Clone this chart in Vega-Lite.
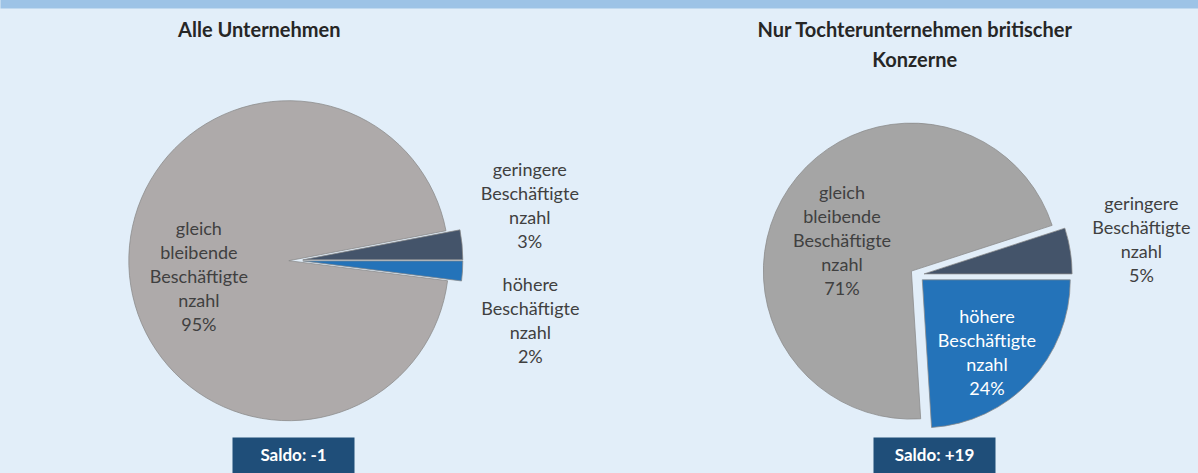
{
  "$schema": "https://vega.github.io/schema/vega-lite/v6.json",
  "width": 1198,
  "height": 437,
  "autosize": {"type": "none"},
  "padding": {"left": 0, "right": 0, "top": 0, "bottom": 36},
  "background": "#e2eef9",
  "config": {"view": {"stroke": null}, "font": "Lato"},
  "datasets": {
    "slices": [
      {"chart": "Alle Unternehmen", "kat": "gleich", "label": "gleich|bleibende|Beschäftigte|nzahl|95%", "pct": 95},
      {"chart": "Alle Unternehmen", "kat": "geringer", "label": "geringere|Beschäftigte|nzahl|3%", "pct": 3},
      {"chart": "Alle Unternehmen", "kat": "höher", "label": "höhere|Beschäftigte|nzahl|2%", "pct": 2},
      {"chart": "Nur Tochterunternehmen britischer|Konzerne", "kat": "gleich", "label": "gleich|bleibende|Beschäftigte|nzahl|71%", "pct": 71},
      {"chart": "Nur Tochterunternehmen britischer|Konzerne", "kat": "geringer", "label": "geringere|Beschäftigte|nzahl|5%", "pct": 5},
      {"chart": "Nur Tochterunternehmen britischer|Konzerne", "kat": "höher", "label": "höhere|Beschäftigte|nzahl|24%", "pct": 24}
    ],
    "saldo": [
      {"chart": "Alle Unternehmen", "saldo": "Saldo: -1"},
      {"chart": "Nur Tochterunternehmen britischer|Konzerne", "saldo": "Saldo: +19"}
    ]
  },
  "layer": [
    {
      "data": {"name": "slices"},
      "encoding": {
        "x": {
          "field": "chart",
          "type": "nominal",
          "scale": {"type": "point", "domain": ["Alle Unternehmen", "Nur Tochterunternehmen britischer|Konzerne"], "padding": 0.464, "align": 0.513},
          "axis": {
            "orient": "top",
            "title": null,
            "ticks": false,
            "grid": false,
            "domain": true,
            "domainColor": "#9dc3e6",
            "domainWidth": 16,
            "labelExpr": "split(datum.label, '|')",
            "labelFont": "Lato",
            "labelFontWeight": "bold",
            "labelFontSize": 20,
            "labelColor": "#262626",
            "labelBaseline": "top",
            "labelPadding": -20,
            "labelLineHeight": 30,
            "labelLimit": 1000,
            "labelOverlap": false,
            "labelAngle": 0,
            "labelOffset": {"condition": {"test": "datum.value == 'Alle Unternehmen'", "value": -37}, "value": -3}
          }
        },
        "theta": {"field": "pct", "type": "quantitative", "stack": true, "scale": {"domain": [0, 100], "range": [1.5708, 7.854]}},
        "order": {"field": "kat", "type": "ordinal", "sort": "descending"}
      },
      "layer": [
        {
          "transform": [{"filter": "datum.chart == 'Alle Unternehmen'"}],
          "mark": {"type": "arc", "radius": 160, "xOffset": -7, "yOffset": 42.2, "fill": "#aeaaaa", "stroke": "#8a8a8a", "strokeWidth": 0.75},
          "encoding": {"opacity": {"condition": {"test": "datum.kat == 'gleich'", "value": 1}, "value": 0}}
        },
        {
          "transform": [{"filter": "datum.chart == 'Alle Unternehmen'"}],
          "mark": {"type": "arc", "radius": 160, "xOffset": 7, "yOffset": 41.3, "fill": "#44546a", "stroke": "#8a8a8a", "strokeWidth": 0.75},
          "encoding": {"opacity": {"condition": {"test": "datum.kat == 'geringer'", "value": 1}, "value": 0}}
        },
        {
          "transform": [{"filter": "datum.chart == 'Alle Unternehmen'"}],
          "mark": {"type": "arc", "radius": 160, "xOffset": 7, "yOffset": 42.4, "fill": "#2473b9", "stroke": "#8a8a8a", "strokeWidth": 0.75},
          "encoding": {"opacity": {"condition": {"test": "datum.kat == 'höher'", "value": 1}, "value": 0}}
        },
        {
          "transform": [{"filter": "datum.chart == 'Alle Unternehmen'"}],
          "mark": {"type": "text", "radius": 90, "xOffset": -7, "yOffset": 8.7, "font": "Lato", "fontSize": 18, "lineHeight": 24, "lineBreak": "|", "fill": "#404040", "align": "center", "baseline": "middle"},
          "encoding": {"text": {"condition": {"test": "datum.kat == 'gleich'", "field": "label", "type": "nominal"}, "value": ""}}
        },
        {
          "transform": [{"filter": "datum.chart == 'Alle Unternehmen'"}],
          "mark": {"type": "text", "radius": 228, "xOffset": 7, "yOffset": -26.2, "font": "Lato", "fontSize": 18, "lineHeight": 24, "lineBreak": "|", "fill": "#404040", "align": "center", "baseline": "middle"},
          "encoding": {"text": {"condition": {"test": "datum.kat == 'geringer'", "field": "label", "type": "nominal"}, "value": ""}}
        },
        {
          "transform": [{"filter": "datum.chart == 'Alle Unternehmen'"}],
          "mark": {"type": "text", "radius": 228, "xOffset": 7, "yOffset": 53, "font": "Lato", "fontSize": 18, "lineHeight": 24, "lineBreak": "|", "fill": "#404040", "align": "center", "baseline": "middle"},
          "encoding": {"text": {"condition": {"test": "datum.kat == 'höher'", "field": "label", "type": "nominal"}, "value": ""}}
        },
        {
          "transform": [{"filter": "datum.chart != 'Alle Unternehmen'"}],
          "mark": {"type": "arc", "radius": 148, "xOffset": -5.8, "yOffset": 52.6, "fill": "#a5a5a5", "stroke": "#8a8a8a", "strokeWidth": 0.75},
          "encoding": {"opacity": {"condition": {"test": "datum.kat == 'gleich'", "value": 1}, "value": 0}}
        },
        {
          "transform": [{"filter": "datum.chart != 'Alle Unternehmen'"}],
          "mark": {"type": "arc", "radius": 148, "xOffset": 6.9, "yOffset": 55.4, "fill": "#44546a", "stroke": "#8a8a8a", "strokeWidth": 0.75},
          "encoding": {"opacity": {"condition": {"test": "datum.kat == 'geringer'", "value": 1}, "value": 0}}
        },
        {
          "transform": [{"filter": "datum.chart != 'Alle Unternehmen'"}],
          "mark": {"type": "arc", "radius": 148, "xOffset": 5.1, "yOffset": 61.3, "fill": "#2473b9", "stroke": "#8a8a8a", "strokeWidth": 0.75},
          "encoding": {"opacity": {"condition": {"test": "datum.kat == 'höher'", "value": 1}, "value": 0}}
        },
        {
          "transform": [{"filter": "datum.chart != 'Alle Unternehmen'"}],
          "mark": {"type": "text", "radius": 78, "xOffset": -10.7, "yOffset": 19.3, "font": "Lato", "fontSize": 18, "lineHeight": 24, "lineBreak": "|", "fill": "#404040", "align": "center", "baseline": "middle"},
          "encoding": {"text": {"condition": {"test": "datum.kat == 'gleich'", "field": "label", "type": "nominal"}, "value": ""}}
        },
        {
          "transform": [{"filter": "datum.chart != 'Alle Unternehmen'"}],
          "mark": {"type": "text", "radius": 220, "xOffset": 6.9, "yOffset": 20.9, "font": "Lato", "fontSize": 18, "lineHeight": 24, "lineBreak": "|", "fill": "#404040", "align": "center", "baseline": "middle"},
          "encoding": {"text": {"condition": {"test": "datum.kat == 'geringer'", "field": "label", "type": "nominal"}, "value": ""}}
        },
        {
          "transform": [{"filter": "datum.chart != 'Alle Unternehmen'"}],
          "mark": {"type": "text", "radius": 99, "xOffset": -2.4, "yOffset": 32.2, "font": "Lato", "fontSize": 18, "lineHeight": 24, "lineBreak": "|", "fill": "#ffffff", "align": "center", "baseline": "middle"},
          "encoding": {"text": {"condition": {"test": "datum.kat == 'höher'", "field": "label", "type": "nominal"}, "value": ""}}
        }
      ]
    },
    {
      "data": {"name": "saldo"},
      "mark": {"type": "point", "opacity": 0},
      "encoding": {
        "x": {
          "field": "saldo",
          "type": "nominal",
          "scale": {"type": "point", "domain": ["Saldo: -1", "Saldo: +19"], "padding": 0.4345, "align": 0.526},
          "axis": {
            "orient": "bottom",
            "title": null,
            "grid": false,
            "domain": false,
            "ticks": true,
            "tickColor": "#1f4e79",
            "tickWidth": 122,
            "tickSize": 36,
            "labelFont": "Lato",
            "labelFontWeight": "bold",
            "labelFontSize": 17,
            "labelColor": "#ffffff",
            "labelBaseline": "middle",
            "labelPadding": -18,
            "labelAngle": 0,
            "labelOverlap": false,
            "labelLimit": 1000
          }
        }
      }
    }
  ],
  "resolve": {"scale": {"x": "independent"}, "axis": {"x": "independent"}}
}
